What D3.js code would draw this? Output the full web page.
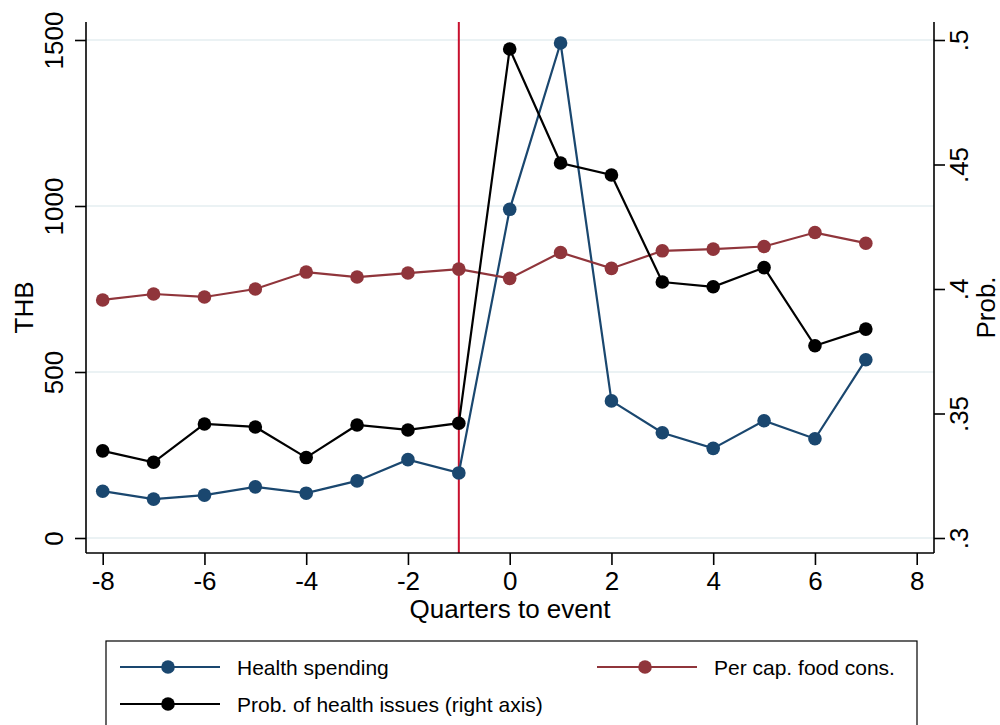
<!DOCTYPE html>
<html>
<head>
<meta charset="utf-8">
<script src="https://cdn.jsdelivr.net/npm/d3@7"></script>
<style>
  html, body { margin: 0; padding: 0; background: #fff; }
  svg { display: block; font-family: "Liberation Sans", Arial, sans-serif; }
</style>
</head>
<body>
<svg id="chart" width="1000" height="725"></svg>
<script>
// ---- data ----
const quarters = [-8, -7, -6, -5, -4, -3, -2, -1, 0, 1, 2, 3, 4, 5, 6, 7];
const healthSpending = [141, 117, 129, 154, 135, 172, 236, 196, 990, 1491, 413, 317, 270, 353, 299, 537];
const foodCons = [717, 735, 726, 750, 801, 786, 798, 810, 782, 860, 812, 865, 870, 878, 920, 888];
const probHealth = [.335, .3304, .3458, .3446, .3323, .3454, .3434, .3461, .4964, .4506, .4458, .4028, .4009, .4086, .3772, .3839];
const xTicks = [-8, -6, -4, -2, 0, 2, 4, 6, 8];
const xTickLabels = ["-8", "-6", "-4", "-2", "0", "2", "4", "6", "8"];
const leftTicks = [0, 500, 1000, 1500];
const rightTicks = [.3, .35, .4, .45, .5];
const rightTickLabels = [".3", ".35", ".4", ".45", ".5"];
const eventQuarter = -1;
const seriesNames = ["Health spending", "Per cap. food cons.", "Prob. of health issues (right axis)"];

// ---- layout ----
const svg = d3.select("#chart");
const L = 86, R = 934, T = 22, B = 553;
const colBlue = "#1a476f", colRed = "#90353b", colBlack = "#000000", colLine = "#c8102e", colGrid = "#e4eef0";

const x = d3.scaleLinear().domain([-8, 8]).range([102.7, 916.7]);
const yL = d3.scaleLinear().domain([0, 1500]).range([538, 40]);
const yR = d3.scaleLinear().domain([.3, .5]).range([538, 40]);

// gridlines
svg.append("g").selectAll("line").data(leftTicks).join("line")
  .attr("x1", L).attr("x2", R)
  .attr("y1", d => yL(d)).attr("y2", d => yL(d))
  .attr("stroke", colGrid).attr("stroke-width", 1.6);

// event line
svg.append("line")
  .attr("x1", x(eventQuarter)).attr("x2", x(eventQuarter))
  .attr("y1", T).attr("y2", B)
  .attr("stroke", colLine).attr("stroke-width", 2);

// axes
const fs = 26;
const gL = svg.append("g").attr("transform", `translate(${L},0)`)
  .call(d3.axisLeft(yL).tickValues(leftTicks).tickSize(11).tickPadding(0).tickFormat(d => String(d)));
gL.select(".domain").attr("d", `M0,${T}V${B}`);
gL.selectAll(".tick text").attr("x", null).attr("dy", null)
  .attr("text-anchor", "middle").style("font-size", fs + "px")
  .attr("transform", "translate(-23,0) rotate(-90)");

const gR = svg.append("g").attr("transform", `translate(${R},0)`)
  .call(d3.axisRight(yR).tickValues(rightTicks).tickSize(11).tickPadding(0)
    .tickFormat((d, i) => rightTickLabels[i]));
gR.select(".domain").attr("d", `M0,${T}V${B}`);
gR.selectAll(".tick text").attr("x", null).attr("dy", null)
  .attr("text-anchor", "middle").style("font-size", fs + "px")
  .attr("transform", "translate(34,0) rotate(-90)");

const gX = svg.append("g").attr("transform", `translate(0,${B})`)
  .call(d3.axisBottom(x).tickValues(xTicks).tickSize(12).tickPadding(0)
    .tickFormat((d, i) => xTickLabels[i]));
gX.select(".domain").attr("d", `M${L},0H${R}`);
gX.selectAll(".tick text").attr("dy", null).attr("y", 37).style("font-size", fs + "px");

[gL, gR, gX].forEach(g => {
  g.select(".domain").attr("stroke", "#000").attr("stroke-width", 1.6).attr("fill", "none");
  g.selectAll(".tick line").attr("stroke", "#000").attr("stroke-width", 1.6);
  g.selectAll(".tick text").attr("fill", "#000").style("font-family", '"Liberation Sans", Arial, sans-serif');
  g.attr("font-family", null).attr("font-size", null);
});

// axis titles
svg.append("text").text("THB")
  .attr("transform", `translate(33,${(T + B) / 2 + 20}) rotate(-90)`)
  .attr("text-anchor", "middle").style("font-size", fs + "px");
svg.append("text").text("Prob.")
  .attr("transform", `translate(995,${(T + B) / 2 + 20}) rotate(-90)`)
  .attr("text-anchor", "middle").style("font-size", fs + "px");
svg.append("text").text("Quarters to event")
  .attr("x", (L + R) / 2).attr("y", 618)
  .attr("text-anchor", "middle").style("font-size", fs + "px");

// series
function drawSeries(vals, yScale, color) {
  const pts = quarters.map((q, i) => [q, vals[i]]);
  svg.append("path").datum(pts)
    .attr("d", d3.line().x(d => x(d[0])).y(d => yScale(d[1])))
    .attr("fill", "none").attr("stroke", color).attr("stroke-width", 2.2);
  svg.append("g").selectAll("circle").data(pts).join("circle")
    .attr("cx", d => x(d[0])).attr("cy", d => yScale(d[1])).attr("r", 6.8)
    .attr("fill", color);
}
drawSeries(healthSpending, yL, colBlue);
drawSeries(foodCons, yL, colRed);
drawSeries(probHealth, yR, colBlack);

// legend
const lg = svg.append("g");
lg.append("rect").attr("x", 106).attr("y", 641).attr("width", 811).attr("height", 110)
  .attr("fill", "#fff").attr("stroke", "#000").attr("stroke-width", 1.2);
const legendItems = [
  { name: seriesNames[0], color: colBlue, x0: 120, y0: 667 },
  { name: seriesNames[1], color: colRed, x0: 597, y0: 667 },
  { name: seriesNames[2], color: colBlack, x0: 120, y0: 704 }
];
legendItems.forEach(it => {
  lg.append("line").attr("x1", it.x0).attr("x2", it.x0 + 100)
    .attr("y1", it.y0).attr("y2", it.y0)
    .attr("stroke", it.color).attr("stroke-width", 2.2);
  lg.append("circle").attr("cx", it.x0 + 48).attr("cy", it.y0).attr("r", 6.8).attr("fill", it.color);
  lg.append("text").text(it.name).attr("x", it.x0 + 117).attr("y", it.y0 + 7.5)
    .style("font-size", "21px");
});
</script>
</body>
</html>
